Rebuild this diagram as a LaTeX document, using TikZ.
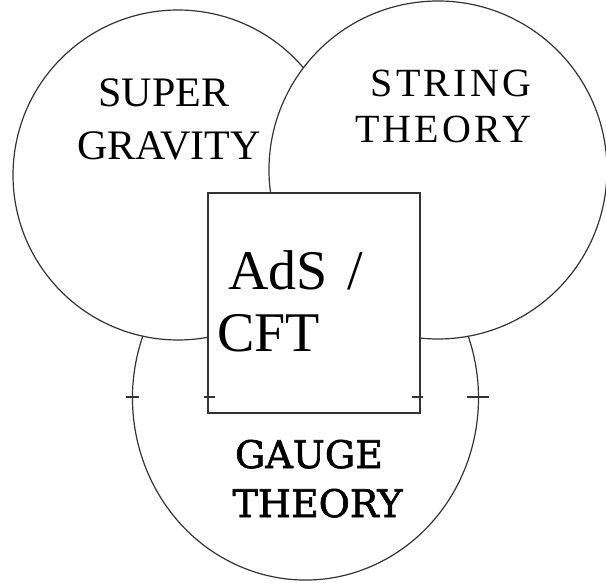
\documentclass[tikz,border=0pt]{standalone}
\usepackage{fontspec}
\setmainfont{Liberation Serif}
\newfontfamily\slabfont[FakeBold=1.6]{DejaVu Serif}
\newfontfamily\widefont[LetterSpace=8]{Liberation Serif}
\begin{document}
\begin{tikzpicture}[x=1pt,y=1pt,
  outline/.style={draw=black!80, line width=1.2pt},
  lbl/.style={anchor=base, inner sep=0pt, text=black},
  lblw/.style={anchor=base west, inner sep=0pt, text=black}]
\useasboundingbox (0,0) rectangle (606,-583);
% centres
\coordinate (cL) at (178,-175);
\coordinate (cR) at (438,-170);
\coordinate (cG) at (305.5,-398);
% box
\node[outline, minimum width=212pt, minimum height=220pt, inner sep=0pt] (box) at (314,-303) {};
% circles (hidden parts omitted)
\draw[outline] (cL) ++(40.5:165pt) arc[start angle=40.5, end angle=280.5, radius=165pt];
\draw[outline] (cR) ++(187.8:169pt) arc[start angle=187.8, end angle=-96.1, radius=169pt];
\draw[outline] (cG) ++(160:173pt and 182pt) arc[start angle=160, end angle=380, x radius=173pt, y radius=182pt];
% ticks
\coordinate (t1a) at (126,-397); \coordinate (t1b) at (139,-397);
\coordinate (t2a) at (204,-397); \coordinate (t2b) at (215,-397);
\coordinate (t3a) at (412,-397); \coordinate (t3b) at (423,-397);
\coordinate (t4a) at (467,-397); \coordinate (t4b) at (489,-397);
\draw[outline] (t1a) -- (t1b);
\draw[outline] (t2a) -- (t2b);
\draw[outline] (t3a) -- (t3b);
\draw[outline] (t4a) -- (t4b);
% labels
\node[lbl, font=\fontsize{42}{42}\selectfont] (super) at (164,-107) {SUPER};
\node[lbl, font=\fontsize{42}{42}\selectfont] (gravity) at (169,-160) {GRAVITY};
\node[lbl, font=\widefont\fontsize{40}{40}\selectfont] (string) at (451,-97) {STRING};
\node[lbl, font=\widefont\fontsize{40}{40}\selectfont] (theoryA) at (443,-143) {THEORY};
\node[lblw, font=\fontsize{56}{56}\selectfont] (ads) at (228,-290) {AdS\hspace{20pt}/};
\node[lblw, font=\fontsize{56}{56}\selectfont] (cft) at (217,-352) {CFT};
\node[lbl, font=\slabfont\fontsize{38}{38}\selectfont] (gauge) at (309,-468) {GAUGE};
\node[lbl, font=\slabfont\fontsize{38}{38}\selectfont] (theoryB) at (317.5,-517) {THEORY};
\end{tikzpicture}
\end{document}
